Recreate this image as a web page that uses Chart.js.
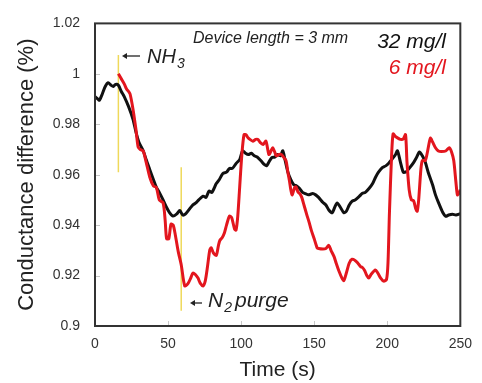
<!DOCTYPE html>
<html>
<head>
<meta charset="utf-8">
<script src="https://cdn.jsdelivr.net/npm/chart.js@4/dist/chart.umd.min.js"></script>
<style>
  html, body { margin: 0; padding: 0; background: #fff; }
  canvas { display: block; }
</style>
</head>
<body>
<canvas id="grafico" width="482" height="383"></canvas>
<script>
// ---------------------
// Dados
// ---------------------
const X_TICKS = [0, 50, 100, 150, 200, 250];
const Y_TICKS = [0.9, 0.92, 0.94, 0.96, 0.98, 1, 1.02];

// 32 mg/l (preto)
const tempo32 = [0, 2, 3, 5, 7, 9, 11, 12.5, 14, 16, 18, 20, 23, 26, 28, 30, 33, 35, 37.5, 40,
  42, 44, 46.6, 49, 51, 53.4, 56, 58, 60, 62, 64.8, 67, 69, 71, 74, 76, 78, 80, 83, 85,
  87.5, 90, 92, 94, 96.6, 99, 101, 103, 105, 107, 109, 111, 113.6, 116, 117.5, 119, 121, 123, 125, 127,
  128.5, 130, 132, 134, 136, 138, 140, 142, 144, 146, 149, 151, 153, 156, 158, 160, 162.3, 164, 165.7, 168,
  170.3, 172, 174, 176, 178, 181, 183, 185, 187.5, 190, 192, 194, 196.6, 199, 201, 203, 205.7, 207, 209, 211,
  213, 215, 218, 220, 222, 224, 226, 228, 231, 233, 235, 238, 240, 242, 244.6, 247, 250];
const valor32 = [0.991, 0.990, 0.9895, 0.992, 0.995, 0.9965, 0.9955, 0.995, 0.9958, 0.9955, 0.993, 0.991, 0.987, 0.982, 0.977, 0.973, 0.9695, 0.966, 0.962, 0.958,
  0.955, 0.953, 0.950, 0.947, 0.945, 0.9436, 0.9445, 0.9458, 0.944, 0.9445, 0.9465, 0.948, 0.9488, 0.950, 0.9515, 0.951, 0.9535, 0.953, 0.9565, 0.958,
  0.9605, 0.961, 0.9625, 0.9625, 0.9645, 0.966, 0.9695, 0.9685, 0.968, 0.9685, 0.9675, 0.967, 0.9655, 0.964, 0.9636, 0.965, 0.9668, 0.967, 0.968, 0.9675,
  0.9695, 0.966, 0.961, 0.958, 0.956, 0.9555, 0.9545, 0.953, 0.9525, 0.952, 0.9525, 0.952, 0.951, 0.949, 0.948, 0.946, 0.9449, 0.947, 0.9488, 0.947,
  0.9449, 0.9455, 0.948, 0.9495, 0.950, 0.9515, 0.9526, 0.953, 0.9545, 0.9565, 0.959, 0.961, 0.9628, 0.9635, 0.9645, 0.966, 0.968, 0.9695, 0.965, 0.961,
  0.9612, 0.9625, 0.9648, 0.9668, 0.969, 0.9675, 0.965, 0.961, 0.956, 0.952, 0.949, 0.945, 0.9435, 0.944, 0.9443, 0.944, 0.9445];

// 6 mg/l (vermelho)
const tempo6 = [16, 17, 18, 20, 21.6, 23, 24, 26, 28, 29.5, 31, 33, 35, 37.5, 40, 42, 44, 46.6, 48, 49,
  50.5, 52, 53.5, 55, 57, 59, 61.4, 63.6, 65.5, 67, 68.5, 70.5, 72, 74, 75.5, 77, 78.5, 79.5, 81, 83,
  84.5, 85.5, 87, 88.6, 90, 92, 93.5, 95.5, 96.5, 97.7, 99, 100.5, 102, 103.5, 104.5, 106, 108, 110, 111.5, 113,
  115, 117, 119, 120.5, 121.6, 123, 124, 126, 127.5, 129, 130.7, 132, 133, 134, 135, 136.5, 137.5, 139, 140, 141.5,
  143, 145, 146.6, 148, 150, 152, 153, 156, 158, 160, 161.5, 163.6, 165, 167, 169, 170.3, 172, 174, 176, 178,
  179.5, 181.6, 183, 184.5, 186, 187.3, 189, 191.9, 193.5, 195.5, 197.5, 199.5, 200.5, 201.5, 203, 204, 205.5, 207, 209, 211,
  212.5, 213.5, 215, 216.5, 218, 219.5, 220.5, 221.5, 223, 224, 226, 227.5, 229.5, 231, 233, 235, 237, 240, 242.5, 244,
  245.5, 247, 248, 249, 250];
const valor6 = [1.000, 0.999, 0.998, 0.996, 0.994, 0.993, 0.992, 0.986, 0.978, 0.971, 0.970, 0.9694, 0.965, 0.959, 0.9555, 0.955, 0.950, 0.9488, 0.942, 0.9346,
  0.9346, 0.9404, 0.940, 0.936, 0.9294, 0.9243, 0.9159, 0.9168, 0.919, 0.921, 0.9205, 0.919, 0.917, 0.9159, 0.918, 0.9236, 0.930, 0.931, 0.929, 0.928,
  0.932, 0.934, 0.935, 0.937, 0.940, 0.9436, 0.943, 0.9385, 0.938, 0.9436, 0.955, 0.968, 0.9759, 0.9758, 0.9748, 0.974, 0.9733, 0.974, 0.974, 0.9728,
  0.972, 0.9733, 0.968, 0.9695, 0.9707, 0.969, 0.9675, 0.968, 0.968, 0.967, 0.9656, 0.961, 0.9578, 0.954, 0.952, 0.9548, 0.9552, 0.953, 0.9526, 0.951,
  0.948, 0.944, 0.941, 0.938, 0.9346, 0.931, 0.9307, 0.9305, 0.9307, 0.932, 0.930, 0.9275, 0.925, 0.9217, 0.919, 0.918, 0.921, 0.925, 0.9265, 0.926,
  0.9252, 0.9236, 0.9232, 0.922, 0.920, 0.919, 0.9205, 0.9222, 0.921, 0.919, 0.9178, 0.9185, 0.925, 0.945, 0.968, 0.9762, 0.9752, 0.9746, 0.974, 0.9742,
  0.9759, 0.965, 0.954, 0.950, 0.9497, 0.9465, 0.9455, 0.950, 0.962, 0.9656, 0.9656, 0.969, 0.9745, 0.973, 0.9707, 0.9694, 0.9692, 0.9694, 0.9707, 0.969,
  0.9656, 0.957, 0.952, 0.9525, 0.954];

// Marcadores (linhas amarelas): NH3 e N2 purge
const marcaNH3 = { t: 16, de: 1.0075, ate: 0.961 };
const marcaN2 = { t: 59, de: 0.963, ate: 0.906 };

const FONTE = '"Liberation Sans", Arial, Helvetica, sans-serif';
const VERMELHO = '#e3161e';

const paraPontos = (ts, vs) => ts.map((t, i) => ({ x: t, y: vs[i] }));

// ---------------------
// Plugin: moldura, ticks internos e textos
// ---------------------
const extras = {
    id: 'extras',
    afterDraw(chart) {
        const { ctx, chartArea: a, scales: { x, y } } = chart;
        ctx.save();

        // ticks internos (bem claros)
        ctx.strokeStyle = '#c8c8c8';
        ctx.lineWidth = 1;
        X_TICKS.slice(1, -1).forEach(v => {
            const px = Math.round(x.getPixelForValue(v)) + 0.5;
            ctx.beginPath(); ctx.moveTo(px, a.bottom); ctx.lineTo(px, a.bottom - 5); ctx.stroke();
        });
        Y_TICKS.slice(1, -1).forEach(v => {
            const py = Math.round(y.getPixelForValue(v)) + 0.5;
            ctx.beginPath(); ctx.moveTo(a.left, py); ctx.lineTo(a.left + 5, py); ctx.stroke();
        });

        // moldura
        ctx.strokeStyle = '#333';
        ctx.lineWidth = 2;
        ctx.strokeRect(a.left, a.top, a.right - a.left, a.bottom - a.top);

        // textos
        ctx.fillStyle = '#222';
        ctx.textBaseline = 'alphabetic';
        ctx.font = 'italic 16px ' + FONTE;
        ctx.fillText('Device length = 3 mm', 193, 43);

        ctx.textAlign = 'right';
        ctx.font = 'italic 21px ' + FONTE;
        ctx.fillStyle = '#111';
        ctx.fillText('32 mg/l', 446, 48);
        ctx.fillStyle = VERMELHO;
        ctx.fillText('6 mg/l', 446, 74);

        // NH3
        ctx.textAlign = 'left';
        ctx.fillStyle = '#222';
        ctx.font = 'italic 20px ' + FONTE;
        ctx.fillText('NH', 147, 63);
        const wNH = ctx.measureText('NH').width;
        ctx.font = 'italic 14px ' + FONTE;
        ctx.fillText('3', 147 + wNH + 1, 68);

        // N2 purge
        ctx.font = 'italic 21px ' + FONTE;
        ctx.fillText('N', 208, 307);
        const wN = ctx.measureText('N').width;
        ctx.font = 'italic 14px ' + FONTE;
        ctx.fillText('2', 208 + wN + 1, 312);
        ctx.font = 'italic 21px ' + FONTE;
        ctx.fillText('purge', 235, 307);

        // setas
        const seta = (x1, x2, yy) => {
            ctx.strokeStyle = '#222';
            ctx.fillStyle = '#222';
            ctx.lineWidth = 1.3;
            ctx.beginPath(); ctx.moveTo(x2, yy); ctx.lineTo(x1 + 3, yy); ctx.stroke();
            ctx.beginPath(); ctx.moveTo(x1, yy); ctx.lineTo(x1 + 5, yy - 3); ctx.lineTo(x1 + 5, yy + 3); ctx.closePath(); ctx.fill();
        };
        seta(122, 140, 56);
        seta(190, 202, 303);

        ctx.restore();
    }
};

// ---------------------
// Gráfico
// ---------------------
new Chart(document.getElementById('grafico'), {
    type: 'line',
    data: {
        datasets: [
            {
                label: '6 mg/l',
                data: paraPontos(tempo6, valor6),
                borderColor: VERMELHO,
                borderWidth: 3,
                pointRadius: 0,
                tension: 0.25
            },
            {
                label: '32 mg/l',
                data: paraPontos(tempo32, valor32),
                borderColor: '#111',
                borderWidth: 3,
                pointRadius: 0,
                tension: 0.25
            },
            {
                label: 'NH3',
                data: [{ x: marcaNH3.t, y: marcaNH3.de }, { x: marcaNH3.t, y: marcaNH3.ate }],
                borderColor: '#efd95a',
                borderWidth: 1.5,
                pointRadius: 0
            },
            {
                label: 'N2',
                data: [{ x: marcaN2.t, y: marcaN2.de }, { x: marcaN2.t, y: marcaN2.ate }],
                borderColor: '#efd95a',
                borderWidth: 1.5,
                pointRadius: 0
            }
        ]
    },
    options: {
        responsive: false,
        devicePixelRatio: 1,
        animation: false,
        layout: { padding: { top: 16, right: 20, left: 0, bottom: 0 } },
        plugins: { legend: { display: false }, tooltip: { enabled: false } },
        scales: {
            x: {
                type: 'linear',
                min: 0,
                max: 250,
                grid: { display: false, drawTicks: false },
                border: { display: false },
                afterBuildTicks: s => { s.ticks = X_TICKS.map(v => ({ value: v })); },
                ticks: {
                    padding: 10,
                    color: '#333',
                    font: { family: FONTE, size: 14 }
                },
                title: {
                    display: true,
                    text: 'Time (s)',
                    color: '#222',
                    font: { family: FONTE, size: 21 },
                    padding: { top: 0, bottom: 0 }
                },
                afterFit: s => { s.height = 57; }
            },
            y: {
                min: 0.9,
                max: 1.02,
                grid: { display: false, drawTicks: false },
                border: { display: false },
                afterBuildTicks: s => { s.ticks = Y_TICKS.map(v => ({ value: v })); },
                ticks: {
                    padding: 15,
                    color: '#333',
                    font: { family: FONTE, size: 14 },
                    callback: v => String(Number(v.toFixed(2)))
                },
                title: {
                    display: true,
                    text: 'Conductance difference (%)',
                    color: '#222',
                    font: { family: FONTE, size: 22 },
                    padding: { top: 14, bottom: 0 }
                },
                afterFit: s => { s.width = 95; }
            }
        }
    },
    plugins: [extras]
});
</script>
</body>
</html>
